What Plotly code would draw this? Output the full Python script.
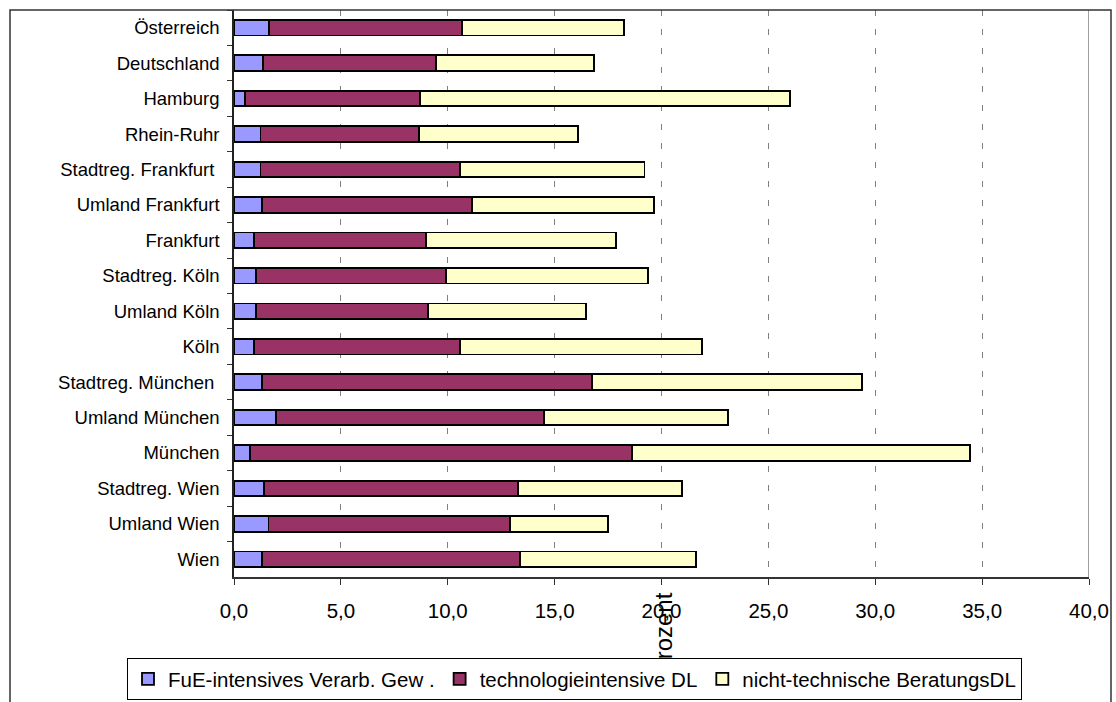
import plotly.graph_objects as go

# Regions, top to bottom
regions = [
    "Österreich", "Deutschland", "Hamburg", "Rhein-Ruhr",
    "Stadtreg. Frankfurt\u00a0", "Umland Frankfurt", "Frankfurt",
    "Stadtreg. Köln", "Umland Köln", "Köln",
    "Stadtreg. München\u00a0", "Umland München", "München",
    "Stadtreg. Wien", "Umland Wien", "Wien",
]

# Shares in percent per sector
fue_verarb = [1.63, 1.35, 0.50, 1.24, 1.24, 1.32, 0.94, 1.04, 1.04, 0.94,
              1.32, 1.97, 0.76, 1.41, 1.61, 1.31]
tech_dl = [9.05, 8.11, 8.21, 7.40, 9.34, 9.81, 8.04, 8.89, 8.05, 9.64,
           15.43, 12.54, 17.86, 11.87, 11.29, 12.08]
beratung_dl = [7.58, 7.40, 17.31, 7.46, 8.62, 8.52, 8.89, 9.45, 7.37, 11.31,
               12.62, 8.61, 15.80, 7.68, 4.61, 8.24]

series_names = ["FuE-intensives Verarb. Gew .", "technologieintensive DL",
                "nicht-technische BeratungsDL"]
series_values = [fue_verarb, tech_dl, beratung_dl]
series_colors = ["#9999FF", "#993366", "#FFFFCC"]

x_ticks = [0, 5, 10, 15, 20, 25, 30, 35, 40]
axis_title = "Prozent"

W, H = 1116, 702
ML, MR, MT, MB = 234, 27, 10, 125
PW, PH = W - ML - MR, H - MT - MB


def px_x(p):
    return (p - ML) / PW


def px_y(p):
    return (H - MB - p) / PH


FONT = "Liberation Sans, Arial, sans-serif"

fig = go.Figure()
for name, vals, col in zip(series_names, series_values, series_colors):
    fig.add_trace(go.Bar(
        y=regions, x=vals, name=name, orientation="h",
        marker=dict(color=col, line=dict(color="black", width=1.8)),
        hoverinfo="x+y+name",
    ))

fig.update_layout(
    width=W, height=H,
    margin=dict(l=ML, r=MR, t=MT, b=MB, pad=0, autoexpand=False),
    paper_bgcolor="white", plot_bgcolor="white",
    barmode="stack", bargap=0.56,
    separators=",.",
    font=dict(family=FONT, color="black"),
    showlegend=True,
    legend=dict(
        orientation="h", traceorder="normal",
        x=px_x(127), xanchor="left", y=px_y(658), yanchor="top",
        bgcolor="white", bordercolor="black", borderwidth=1,
        font=dict(size=20.5, family=FONT, color="black"),
    ),
)

fig.update_xaxes(
    range=[0, 40], tickvals=x_ticks, tickformat=".1f",
    showgrid=True, gridcolor="#808080", gridwidth=1, griddash="6px,13px",
    zeroline=False, automargin=False,
    showline=True, linecolor="#333333", linewidth=1.5,
    ticks="outside", ticklen=6, tickcolor="#333333", tickwidth=1,
    tickfont=dict(size=20.5, family=FONT, color="black"),
    ticklabelstandoff=9,
)
fig.update_yaxes(
    type="category", autorange="reversed", automargin=False,
    showgrid=False, zeroline=False,
    showline=True, linecolor="#222222", linewidth=1.5,
    ticks="outside", ticklen=5, tickcolor="#333333", tickwidth=1,
    tickson="boundaries",
    tickfont=dict(size=18.5, family=FONT, color="black"),
    ticklabelstandoff=9,
)

# Solid right edge of the plot area
fig.add_shape(type="line", xref="x", yref="paper", x0=40, x1=40, y0=0, y1=1,
              line=dict(color="#808080", width=1.5), layer="above")

# Outer chart frame
fig.add_shape(type="rect", xref="paper", yref="paper",
              x0=px_x(10), x1=px_x(1111), y0=px_y(10), y1=px_y(712),
              line=dict(color="#333333", width=1.5), fillcolor="rgba(0,0,0,0)",
              layer="above")

# Rotated axis title (drawn in the plot layer so the legend sits over it)
fig.add_shape(type="rect", xref="x", yref="paper",
              x0=19, x1=21, y0=px_y(680), y1=px_y(588),
              line=dict(width=0), fillcolor="rgba(0,0,0,0)", layer="above",
              label=dict(text=axis_title, textangle=-90,
                         textposition="middle center",
                         font=dict(size=24, family=FONT, color="black")))

fig.write_html("out.html")
